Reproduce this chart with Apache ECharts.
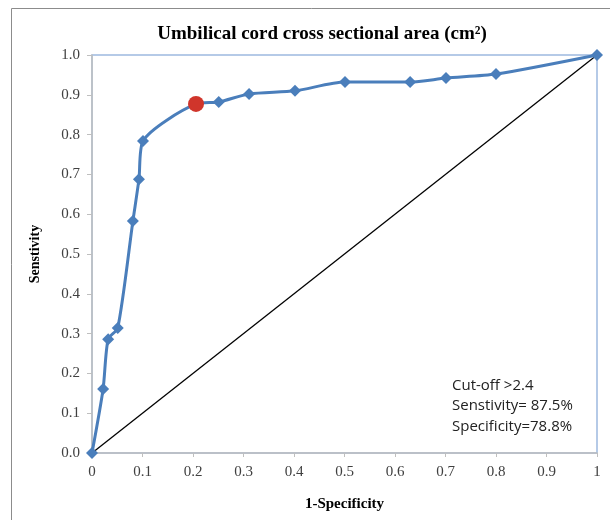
<!DOCTYPE html>
<html>
<head>
<meta charset="utf-8">
<script src="https://cdn.jsdelivr.net/npm/echarts@6/dist/echarts.min.js"></script>
<style>
    html, body { margin: 0; padding: 0; background: #fff; }
    #chart { width: 610px; height: 520px; }
</style>
</head>
<body>
<div id="chart"></div>
<script>
// ROC 曲线数据 (1-特异度, 敏感度)
const fprValues = [0, 0.022, 0.032, 0.051, 0.081, 0.093, 0.101, 0.206, 0.251, 0.311, 0.402, 0.501, 0.63, 0.701, 0.8, 1];
const sensValues = [0, 0.161, 0.286, 0.314, 0.583, 0.688, 0.784, 0.877, 0.882, 0.902, 0.91, 0.932, 0.932, 0.942, 0.952, 1];
// 截断点
const cutoffIndex = 7;
// 对角参考线
const refX = [0, 1];
const refY = [0, 1];
const noteLines = ['Cut-off >2.4', 'Senstivity= 87.5%', 'Specificity=78.8%'];

const chart = echarts.init(document.getElementById('chart'));

const serif = '"Liberation Serif", "DejaVu Serif", serif';

chart.setOption({
    animation: false,
    title: {
        text: 'Umbilical cord cross sectional area (cm²)',
        left: 317,
        top: 20,
        textAlign: 'center',
        textStyle: { fontFamily: serif, fontWeight: 'bold', fontSize: 19, color: '#000' }
    },
    grid: {
        left: 92,
        right: 13,
        top: 55,
        bottom: 67,
        show: true,
        borderColor: '#9db9df',
        borderWidth: 1.5
    },
    xAxis: {
        type: 'value',
        min: 0,
        max: 1,
        interval: 0.1,
        name: '1-Specificity',
        nameLocation: 'middle',
        nameGap: 44,
        nameTextStyle: { fontFamily: serif, fontWeight: 'bold', fontSize: 15, color: '#000' },
        axisLine: { show: true, lineStyle: { color: '#bfbfbf', width: 1.5 } },
        axisTick: { show: true, length: 4, lineStyle: { color: '#bfbfbf' } },
        axisLabel: {
            fontFamily: serif, fontSize: 15, color: '#404040', margin: 12,
            formatter: v => (v === 0 || v === 1) ? String(v) : v.toFixed(1)
        },
        splitLine: { show: false }
    },
    yAxis: {
        type: 'value',
        min: 0,
        max: 1,
        interval: 0.1,
        name: 'Senstivity',
        nameLocation: 'middle',
        nameGap: 50,
        nameTextStyle: { fontFamily: serif, fontWeight: 'bold', fontSize: 14, color: '#000' },
        axisLine: { show: true, lineStyle: { color: '#bfbfbf', width: 1.5 } },
        axisTick: { show: true, length: 5, lineStyle: { color: '#bfbfbf' } },
        axisLabel: {
            fontFamily: serif, fontSize: 15, color: '#404040', margin: 12,
            formatter: v => v.toFixed(1)
        },
        splitLine: { show: false }
    },
    graphic: [
        {
            // 外框
            type: 'rect',
            shape: { x: 11.5, y: 8.5, width: 640, height: 560 },
            style: { fill: 'none', stroke: '#8c8c8c', lineWidth: 1 },
            silent: true
        },
        {
            type: 'text',
            left: 452,
            top: 375,
            style: {
                text: noteLines.join('\n'),
                fontFamily: '"Open Sans", "Liberation Sans", sans-serif',
                fontSize: 15,
                lineHeight: 20.5,
                fill: '#222'
            }
        }
    ],
    series: [
        {
            name: 'reference',
            type: 'line',
            data: refX.map((x, i) => [x, refY[i]]),
            symbol: 'none',
            lineStyle: { color: '#000', width: 1.3 },
            z: 2
        },
        {
            name: 'ROC',
            type: 'line',
            data: fprValues.map((x, i) => [x, sensValues[i]]),
            smooth: 0.25,
            symbol: 'diamond',
            symbolSize: 12,
            itemStyle: { color: '#4a7ebb' },
            lineStyle: { color: '#4a7ebb', width: 3 },
            z: 3
        },
        {
            name: 'cutoff',
            type: 'scatter',
            data: [[fprValues[cutoffIndex], sensValues[cutoffIndex]]],
            symbol: 'circle',
            symbolSize: 16,
            itemStyle: { color: '#d0352b', opacity: 1 },
            z: 4
        }
    ]
});
</script>
</body>
</html>
